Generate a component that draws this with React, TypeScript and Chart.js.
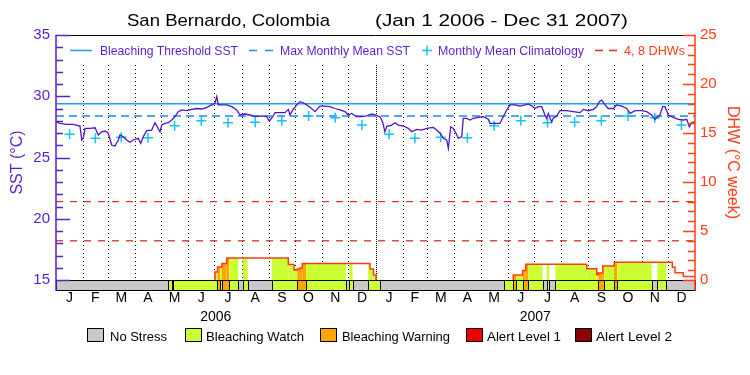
import React, { useEffect, useRef } from 'react';
import { Chart, registerables } from 'chart.js';
Chart.register(...registerables);

// ---------- data ----------
const DAY_MAX = 730; // Jan 1 2006 .. Dec 31 2007 (days since Jan 1 2006)
const MONTH_LETTERS = ['J', 'F', 'M', 'A', 'M', 'J', 'J', 'A', 'S', 'O', 'N', 'D'];
const MONTH_LENGTHS = [31, 28, 31, 30, 31, 30, 31, 31, 30, 31, 30, 31];
const YEAR_LABELS = ['2006', '2007'];
const YEAR_MID_DAYS = [182.5, 547.5];

const sstDays = [
  0, 4.6, 12.2, 19.8, 27.4, 29.4, 31.2, 33.1, 38.8, 44.6, 48.3, 52.2, 56.0, 59.7, 63.6, 67.4, 71.2, 73.1, 76.9, 80.8,
  84.5, 88.3, 94.0, 96.8, 99.7, 103.6, 109.3, 113.1, 115.7, 118.8, 120.8, 124.5, 128.3, 132.2, 135.9, 139.7, 143.6,
  149.3, 155.0, 160.7, 166.5, 172.2, 177.9, 181.6, 183.6, 185.4, 189.3, 195.0, 200.7, 206.4, 210.2, 215.9, 221.6,
  227.3, 235.0, 240.7, 243.7, 247.6, 250.2, 255.9, 261.6, 265.4, 267.3, 270.4, 275.0, 278.8, 282.5, 286.4, 290.2,
  295.9, 301.6, 307.3, 313.0, 318.7, 324.4, 330.2, 333.9, 337.8, 343.5, 349.2, 354.9, 360.7, 364.4, 370.1, 373.2,
  375.7, 378.0, 383.5, 387.3, 391.1, 396.8, 402.5, 406.4, 412.1, 417.8, 423.5, 431.0, 434.9, 438.7, 442.5, 446.3,
  448.2, 450.9, 453.9, 457.0, 459.6, 463.5, 465.3, 469.2, 473.0, 476.7, 482.5, 488.2, 493.9, 495.8, 501.5, 507.2,
  511.0, 514.9, 518.7, 524.4, 530.1, 535.8, 539.6, 543.5, 547.2, 551.0, 554.9, 558.6, 560.6, 562.4, 564.4, 566.3,
  568.1, 572.0, 575.8, 583.4, 591.0, 598.6, 602.4, 608.1, 613.8, 617.7, 620.7, 623.4, 627.2, 631.0, 636.7, 640.5,
  646.3, 652.0, 655.8, 661.5, 669.1, 674.8, 680.5, 684.3, 690.0, 693.1, 695.7, 699.5, 705.2, 710.9, 716.6, 720.5,
  723.5, 726.2, 730,
];
const sstValues = [
  27.92, 27.79, 27.71, 27.71, 27.57, 26.43, 26.57, 27.38, 27.38, 27.43, 26.84, 27.10, 27.16, 26.98, 26.02, 25.94, 26.43,
  26.84, 26.70, 26.43, 26.24, 26.43, 26.57, 26.16, 26.70, 27.19, 27.24, 27.84, 27.51, 27.10, 27.65, 27.79, 27.84,
  28.06, 28.33, 28.74, 28.88, 28.82, 28.93, 29.00, 28.96, 29.10, 29.29, 29.42, 29.96, 29.29, 29.29, 29.29, 29.15,
  28.88, 28.47, 28.55, 28.47, 28.33, 28.39, 28.33, 27.98, 28.33, 28.66, 28.66, 28.66, 28.93, 28.47, 28.88, 29.29,
  29.56, 29.47, 29.29, 29.10, 28.74, 29.20, 29.20, 29.15, 29.00, 28.88, 28.74, 28.47, 28.60, 28.33, 28.33, 28.39,
  28.55, 28.47, 28.33, 27.90, 27.10, 27.55, 27.65, 27.84, 27.65, 27.57, 27.38, 27.10, 27.30, 27.24, 27.38, 27.46,
  27.24, 26.98, 26.57, 26.43, 25.75, 27.51, 27.38, 26.98, 26.57, 26.70, 28.20, 28.20, 28.06, 28.20, 28.28, 28.33,
  28.12, 27.79, 27.79, 27.79, 28.33, 28.88, 29.29, 29.29, 29.20, 29.29, 29.37, 29.20, 29.00, 29.15, 29.15, 28.47,
  28.20, 28.60, 28.20, 27.92, 28.20, 28.39, 28.82, 28.82, 28.74, 28.66, 28.93, 28.82, 28.93, 29.15, 29.56, 29.69,
  29.29, 29.00, 29.00, 29.29, 29.20, 29.00, 28.60, 28.82, 28.82, 28.74, 28.47, 28.12, 28.47, 29.15, 29.15, 28.47,
  28.28, 28.12, 28.06, 28.12, 27.51, 27.84, 27.92,
];

const climValues = [
  26.90, 26.57, 26.65, 26.62, 27.60, 28.00, 27.84, 27.87, 28.00, 28.39, 28.25, 27.65,
  26.90, 26.57, 26.65, 26.62, 27.60, 28.00, 27.84, 27.87, 28.00, 28.39, 28.25, 27.65,
];
const MMM = 28.39;
const BLEACH_THRESHOLD = 29.39;
const DHW_LINES = [4, 8];

const SST_TICKS = [15, 16, 17, 18, 19, 20, 21, 22, 23, 24, 25, 26, 27, 28, 29, 30, 31, 32, 33, 34, 35];
const DHW_TICKS = [0, 1, 2, 3, 4, 5, 6, 7, 8, 9, 10, 11, 12, 13, 14, 15, 16, 17, 18, 19, 20, 21, 22, 23, 24, 25];

// stress level segments: start day, level (0 none, 1 watch, 2 warning)
const stressStarts = [
  0, 127.6, 132.2, 133.3, 184.3, 187.4, 189.2, 198.0, 208.3, 213.3, 218.8, 246.4, 275.7, 285.6, 331.0, 335.1, 338.8,
  356.7, 369.7, 512.2, 522.4, 525.5, 533.2, 539.6, 555.8, 560.6, 563.6, 570.5, 619.5, 626.0, 637.7, 641.2, 680.5,
  686.9, 697.3,
];
const stressLevels = [
  0, 1, 0, 1, 2, 1, 2, 1, 0, 1, 0, 1, 2, 1, 0, 1, 0, 1, 0, 1, 2, 1, 2, 1, 0, 1, 0, 1, 2, 1, 2, 1, 0, 1, 0,
];

// alert-area step (DHW scale): value holds from day[i] to day[i+1]
const alertDays = [
  181.6, 184.5, 189.6, 195.0, 265.4, 271.9, 275.7, 278.8, 281.4, 358.7, 362.7, 365.6,
  522.4, 533.0, 536.6, 606.3, 617.7, 619.6, 624.6, 637.7, 704.1, 707.2, 716.6,
];
const alertValues = [
  0.82, 1.33, 1.68, 2.24, 1.58, 1.02, 1.12, 1.22, 1.68, 1.12, 0.51, 0,
  0.51, 0.97, 1.60, 1.14, 0.56, 0.72, 1.43, 1.81, 1.30, 0.73, 0.36,
];

const STRESS_NAMES = ['No Stress', 'Bleaching Watch', 'Bleaching Warning', 'Alert Level 1', 'Alert Level 2'];

// ---------- styles ----------
const FONT = '"Liberation Sans", Arial, sans-serif';
const PURPLE = '#5a1ed2';
const SST_LINE = '#5014c4';
const DHW_COL = '#ff3c14';
const THRESH_COL = '#1aa0ff';
const MMM_COL = '#1a8cf0';
const CLIM_COL = '#10c4f4';
const DHW4_COL = '#d01e1e';
const DHW8_COL = '#ff2020';
const STEP_COL = '#ff3c14';
const STRESS_COLORS = ['#c8c8c8', '#ccff33', '#ffa500', '#ee0000', '#8b0000'];

// ---------- derived ----------
const monthStarts: number[] = [];
const monthMids: number[] = [];
{
  let d = 0;
  for (let y = 0; y < 2; y++) {
    for (let m = 0; m < 12; m++) {
      monthStarts.push(d);
      monthMids.push(d + MONTH_LENGTHS[m] / 2);
      d += MONTH_LENGTHS[m];
    }
  }
}

function fitText(ctx: CanvasRenderingContext2D, text: string, x: number, y: number, w: number, size: number, color: string) {
  ctx.save();
  ctx.font = `${size}px ${FONT}`;
  ctx.fillStyle = color;
  ctx.textAlign = 'left';
  ctx.textBaseline = 'alphabetic';
  const m = ctx.measureText(text).width || 1;
  ctx.translate(x, y);
  ctx.scale(w / m, 1);
  ctx.fillText(text, 0, 0);
  ctx.restore();
}

const decor = {
  id: 'decor',
  beforeDatasetsDraw(chart: any) {
    const { ctx, chartArea: ca, scales } = chart;
    const xs = scales.x;
    const yD = scales.yDhw;
    const y0 = yD.getPixelForValue(0);
    ctx.save();
    // dotted month lines
    ctx.strokeStyle = '#000';
    ctx.lineWidth = 1;
    monthStarts.forEach((d) => {
      if (d <= 0 || d >= DAY_MAX) return;
      const px = Math.round(xs.getPixelForValue(d)) + 0.5;
      ctx.setLineDash(d === 365 ? [1, 1] : [1, 3]);
      ctx.beginPath();
      ctx.moveTo(px, ca.top + 30);
      ctx.lineTo(px, y0);
      ctx.stroke();
    });
    ctx.setLineDash([]);
    // alert area fills
    for (let i = 0; i < stressStarts.length; i++) {
      const lvl = stressLevels[i];
      if (lvl === 0) continue;
      const a = stressStarts[i];
      const b = i + 1 < stressStarts.length ? stressStarts[i + 1] : DAY_MAX;
      for (let j = 0; j < alertDays.length; j++) {
        const sa = alertDays[j];
        const sb = j + 1 < alertDays.length ? alertDays[j + 1] : DAY_MAX;
        const v = alertValues[j];
        const lo = Math.max(a, sa);
        const hi = Math.min(b, sb);
        if (hi > lo && v > 0) {
          const x1 = xs.getPixelForValue(lo);
          const x2 = xs.getPixelForValue(hi);
          const yt = yD.getPixelForValue(v);
          ctx.fillStyle = STRESS_COLORS[lvl];
          ctx.fillRect(x1, yt, x2 - x1, y0 - yt);
        }
      }
    }
    // stress band
    const yb = ca.bottom;
    ctx.lineWidth = 1;
    ctx.strokeStyle = '#000';
    for (let i = 0; i < stressStarts.length; i++) {
      const a = stressStarts[i];
      const b = i + 1 < stressStarts.length ? stressStarts[i + 1] : DAY_MAX;
      const x1 = Math.round(xs.getPixelForValue(a));
      const x2 = Math.round(xs.getPixelForValue(b));
      ctx.fillStyle = STRESS_COLORS[stressLevels[i]];
      ctx.fillRect(x1, Math.round(y0), x2 - x1, Math.round(yb) - Math.round(y0));
      ctx.strokeRect(x1 + 0.5, Math.round(y0) + 0.5, x2 - x1, Math.round(yb) - Math.round(y0));
    }
    ctx.restore();
  },
  afterDatasetsDraw(chart: any) {
    const { ctx, chartArea: ca, scales } = chart;
    const yS = scales.ySst;
    const yD = scales.yDhw;
    ctx.save();
    ctx.lineWidth = 1;
    // frame top & bottom
    ctx.strokeStyle = '#000';
    ctx.beginPath();
    ctx.moveTo(ca.left, Math.round(ca.top) + 0.5);
    ctx.lineTo(ca.right, Math.round(ca.top) + 0.5);
    ctx.moveTo(ca.left, Math.round(ca.bottom) + 0.5);
    ctx.lineTo(ca.right, Math.round(ca.bottom) + 0.5);
    ctx.stroke();
    // left axis
    ctx.strokeStyle = PURPLE;
    ctx.lineWidth = 1.5;
    ctx.beginPath();
    ctx.moveTo(ca.left, ca.top);
    ctx.lineTo(ca.left, ca.bottom + 1);
    SST_TICKS.forEach((v) => {
      const py = Math.round(yS.getPixelForValue(v)) + 0.5;
      const len = v % 5 === 0 ? 14 : 7;
      ctx.moveTo(ca.left, py);
      ctx.lineTo(ca.left + len, py);
    });
    ctx.stroke();
    // right axis
    ctx.strokeStyle = DHW_COL;
    ctx.beginPath();
    ctx.moveTo(ca.right, ca.top);
    ctx.lineTo(ca.right, ca.bottom + 1);
    DHW_TICKS.forEach((v) => {
      const py = Math.round(yD.getPixelForValue(v)) + 0.5;
      const len = v % 5 === 0 ? 12 : 7;
      ctx.moveTo(ca.right, py);
      ctx.lineTo(ca.right - len, py);
    });
    ctx.stroke();

    // title
    fitText(ctx, 'San Bernardo, Colombia', 127, 26, 203, 17, '#000');
    fitText(ctx, '(Jan 1 2006 - Dec 31 2007)', 375, 26, 253, 17, '#000');

    // top legend
    const ly = 50.5;
    ctx.lineWidth = 1.5;
    ctx.strokeStyle = THRESH_COL;
    ctx.beginPath();
    ctx.moveTo(70, ly);
    ctx.lineTo(92, ly);
    ctx.stroke();
    fitText(ctx, 'Bleaching Threshold SST', 100, 54.5, 138, 12, PURPLE);
    ctx.strokeStyle = MMM_COL;
    ctx.beginPath();
    ctx.moveTo(249, ly);
    ctx.lineTo(257, ly);
    ctx.moveTo(265, ly);
    ctx.lineTo(273, ly);
    ctx.stroke();
    fitText(ctx, 'Max Monthly Mean SST', 280, 54.5, 130, 12, PURPLE);
    ctx.strokeStyle = CLIM_COL;
    ctx.beginPath();
    ctx.moveTo(422, ly);
    ctx.lineTo(432, ly);
    ctx.moveTo(427, ly - 5);
    ctx.lineTo(427, ly + 5);
    ctx.stroke();
    fitText(ctx, 'Monthly Mean Climatology', 438, 54.5, 146, 12, PURPLE);
    ctx.strokeStyle = DHW8_COL;
    ctx.beginPath();
    ctx.moveTo(595, ly);
    ctx.lineTo(603, ly);
    ctx.moveTo(609, ly);
    ctx.lineTo(617, ly);
    ctx.stroke();
    fitText(ctx, '4, 8 DHWs', 624, 54.5, 61, 12, DHW_COL);

    // bottom legend
    const boxX = [87, 185, 320, 466, 575];
    const txtX = [110, 206, 342, 487, 596];
    const txtW = [57, 98, 108, 74, 76];
    ctx.lineWidth = 1;
    for (let i = 0; i < STRESS_NAMES.length; i++) {
      ctx.fillStyle = STRESS_COLORS[i];
      ctx.fillRect(boxX[i], 328, 16, 13);
      ctx.strokeStyle = '#000';
      ctx.strokeRect(boxX[i] + 0.5, 328.5, 16, 13);
      fitText(ctx, STRESS_NAMES[i], txtX[i], 341, txtW[i], 13, '#000');
    }
    ctx.restore();
  },
};

function buildAlertLine() {
  const pts: any[] = [];
  let prev = 0;
  for (let i = 0; i < alertDays.length; i++) {
    if (prev === 0 && alertValues[i] > 0) {
      if (pts.length) pts.push({ x: alertDays[i] - 1, y: null });
      pts.push({ x: alertDays[i], y: 0 });
    }
    pts.push({ x: alertDays[i], y: alertValues[i] });
    prev = alertValues[i];
  }
  if (prev !== 0) pts.push({ x: DAY_MAX, y: prev });
  return pts;
}

export default function App() {
  const ref = useRef<HTMLCanvasElement | null>(null);
  useEffect(() => {
    if (!ref.current) return;
    const chart = new Chart(ref.current, {
      type: 'line',
      data: {
        datasets: [
          {
            label: 'SST',
            data: sstDays.map((d, i) => ({ x: d, y: sstValues[i] })),
            yAxisID: 'ySst',
            borderColor: SST_LINE,
            borderWidth: 1.3,
            pointRadius: 0,
            tension: 0,
          },
          {
            label: 'Monthly Mean Climatology',
            data: monthMids.map((d, i) => ({ x: d, y: climValues[i] })),
            yAxisID: 'ySst',
            showLine: false,
            pointStyle: 'cross',
            pointRadius: 5,
            pointBorderWidth: 1.5,
            borderColor: CLIM_COL,
            backgroundColor: CLIM_COL,
          },
          {
            label: 'Bleaching Threshold SST',
            data: [{ x: 0, y: BLEACH_THRESHOLD }, { x: DAY_MAX, y: BLEACH_THRESHOLD }],
            yAxisID: 'ySst',
            borderColor: THRESH_COL,
            borderWidth: 1.5,
            pointRadius: 0,
          },
          {
            label: 'Max Monthly Mean SST',
            data: [{ x: 0, y: MMM }, { x: DAY_MAX, y: MMM }],
            yAxisID: 'ySst',
            borderColor: MMM_COL,
            borderWidth: 1.5,
            borderDash: [8, 5],
            pointRadius: 0,
          },
          ...DHW_LINES.map((v, i) => ({
            label: `${v} DHW`,
            data: [{ x: 0, y: v }, { x: DAY_MAX, y: v }],
            yAxisID: 'yDhw',
            borderColor: i === 0 ? DHW4_COL : DHW8_COL,
            borderWidth: 1.2,
            borderDash: [7, 7],
            pointRadius: 0,
          })),
          {
            label: 'Alert area',
            data: buildAlertLine(),
            yAxisID: 'yDhw',
            borderColor: STEP_COL,
            borderWidth: 1.5,
            stepped: 'before',
            spanGaps: false,
            pointRadius: 0,
          },
        ] as any,
      },
      options: {
        animation: false,
        responsive: false,
        events: [],
        layout: { padding: { top: 35, left: 0, right: 0, bottom: 0 } },
        plugins: { legend: { display: false }, tooltip: { enabled: false }, title: { display: false } },
        scales: {
          x: {
            type: 'linear',
            position: 'bottom',
            min: 0,
            max: DAY_MAX,
            weight: 0,
            grid: { display: false, drawTicks: false },
            border: { display: false },
            afterBuildTicks: (s: any) => {
              s.ticks = monthMids.map((v) => ({ value: v }));
            },
            afterFit: (s: any) => {
              s.height = 17;
            },
            ticks: {
              autoSkip: false,
              maxRotation: 0,
              minRotation: 0,
              padding: 0,
              color: '#000',
              font: { family: FONT, size: 14 },
              callback: (_v: any, i: number) => MONTH_LETTERS[i % 12],
            },
          },
          x2: {
            type: 'linear',
            position: 'bottom',
            min: 0,
            max: DAY_MAX,
            weight: 1,
            grid: { display: false, drawTicks: false },
            border: { display: false },
            afterBuildTicks: (s: any) => {
              s.ticks = YEAR_MID_DAYS.map((v) => ({ value: v }));
            },
            afterFit: (s: any) => {
              s.height = 68;
            },
            ticks: {
              autoSkip: false,
              maxRotation: 0,
              minRotation: 0,
              padding: 2,
              color: '#000',
              font: { family: FONT, size: 14 },
              callback: (_v: any, i: number) => YEAR_LABELS[i],
            },
          },
          ySst: {
            type: 'linear',
            position: 'left',
            min: 15 - 10 / 12.25,
            max: 35,
            grid: { display: false, drawTicks: false },
            border: { display: false },
            afterBuildTicks: (s: any) => {
              s.ticks = SST_TICKS.map((v) => ({ value: v }));
            },
            afterFit: (s: any) => {
              s.width = 56;
            },
            ticks: {
              autoSkip: false,
              padding: 6,
              color: PURPLE,
              font: { family: FONT, size: 15 },
              callback: (v: any) => (v % 5 === 0 ? String(v) : ''),
            },
            title: {
              display: true,
              text: 'SST (°C)',
              color: PURPLE,
              font: { family: FONT, size: 16 },
              padding: { top: 8, bottom: 0 },
            },
          },
          yDhw: {
            type: 'linear',
            position: 'right',
            min: -10 / 9.8,
            max: 25,
            grid: { display: false, drawTicks: false },
            border: { display: false },
            afterBuildTicks: (s: any) => {
              s.ticks = DHW_TICKS.map((v) => ({ value: v }));
            },
            afterFit: (s: any) => {
              s.width = 55;
            },
            ticks: {
              autoSkip: false,
              padding: 5,
              color: DHW_COL,
              font: { family: FONT, size: 15 },
              callback: (v: any) => (v % 5 === 0 ? String(v) : ''),
            },
            title: {
              display: true,
              text: 'DHW (°C week)',
              color: DHW_COL,
              font: { family: FONT, size: 16 },
              padding: { top: 8, bottom: 0 },
            },
          },
        },
      } as any,
      plugins: [decor],
    });
    return () => chart.destroy();
  }, []);
  return (
    <div style={{ position: 'absolute', left: 0, top: 0, width: 750, height: 375, background: '#fff' }}>
      <canvas ref={ref} width={750} height={375} style={{ width: 750, height: 375, display: 'block' }} />
    </div>
  );
}
